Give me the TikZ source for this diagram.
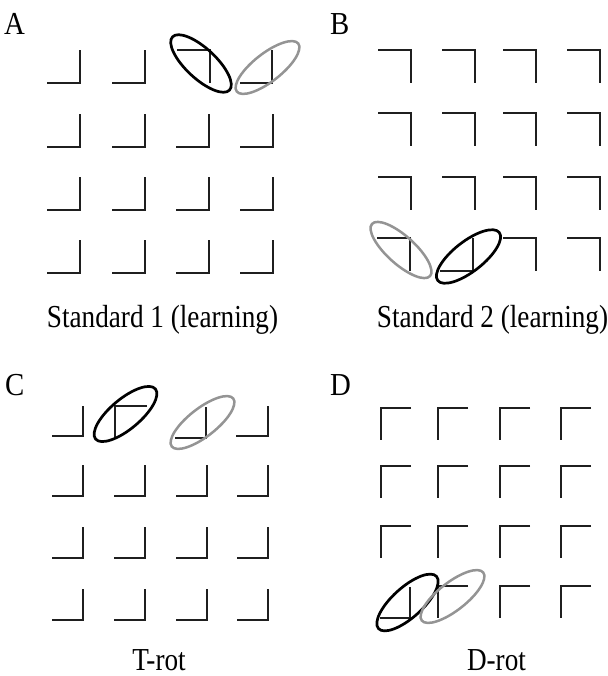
\documentclass[tikz,border=0pt]{standalone}
\usepackage{fontspec}
\setmainfont{Liberation Serif}
\begin{document}
\begin{tikzpicture}[x=1pt,y=-1pt,
  el/.style={draw=black!88, line width=2.3pt, line cap=butt, line join=miter},
  blackring/.style={draw=black, line width=2.7pt},
  grayring/.style={draw=black!42, line width=2.5pt},
  lab/.style={inner sep=0pt, font=\fontsize{32}{36}\selectfont}]
\useasboundingbox (0,0) rectangle (607,676);
% ---------- Panel A : corners bottom-right ----------
\foreach \X in {80,145,209,273}
  \foreach \Y in {147,210,273}
    \draw[el] (\X-33,\Y) -- (\X,\Y) -- (\X,\Y-33);
\draw[el] (47,83) -- (80,83) -- (80,50);
\draw[el] (112,83) -- (145,83) -- (145,50);
\draw[el] (177,50) -- (210,50) -- (210,83);
\draw[el] (240,83) -- (272,83) -- (272,50);
\draw[blackring, rotate around={-43:(201,63.5)}] (201,63.5) ellipse [x radius=39pt, y radius=15pt];
\draw[grayring, rotate around={38:(267.5,67.5)}] (267.5,67.5) ellipse [x radius=39pt, y radius=14pt];
% ---------- Panel B : corners top-right ----------
\foreach \X in {411,475,536,600}
  \foreach \Y in {50,113,177}
    \draw[el] (\X-33,\Y) -- (\X,\Y) -- (\X,\Y+33);
\draw[el] (377,238) -- (410,238) -- (410,271);
\draw[el] (440,271) -- (473,271) -- (473,238);
\draw[el] (503,238) -- (536,238) -- (536,271);
\draw[el] (567,238) -- (600,238) -- (600,271);
\draw[grayring, rotate around={-42:(401,250)}] (401,250) ellipse [x radius=39pt, y radius=14pt];
\draw[blackring, rotate around={38:(468.5,256.5)}] (468.5,256.5) ellipse [x radius=39pt, y radius=15pt];
% ---------- Panel C : corners bottom-right ----------
\foreach \X in {83,145,207,268}
  \foreach \Y in {496,558,620}
    \draw[el] (\X-31,\Y) -- (\X,\Y) -- (\X,\Y-31);
\draw[el] (52,436) -- (83,436) -- (83,406);
\draw[el] (147,406) -- (115,406) -- (115,437);
\draw[el] (175,438) -- (206,438) -- (206,407);
\draw[el] (236,436) -- (268,436) -- (268,406);
\draw[blackring, rotate around={40:(125.5,414)}] (125.5,414) ellipse [x radius=39pt, y radius=15pt];
\draw[grayring, rotate around={38:(202.5,422.5)}] (202.5,422.5) ellipse [x radius=39pt, y radius=14pt];
% ---------- Panel D : corners top-left ----------
\foreach \X in {381,438,500,561}
  \foreach \Y in {408,466,526}
    \draw[el] (\X+30,\Y) -- (\X,\Y) -- (\X,\Y+32);
\draw[el] (380,618) -- (410,618) -- (410,587);
\draw[el] (468,586) -- (438,586) -- (438,618);
\draw[el] (530,586) -- (500,586) -- (500,618);
\draw[el] (591,586) -- (561,586) -- (561,618);
\draw[blackring, rotate around={42:(407.5,602.5)}] (407.5,602.5) ellipse [x radius=39pt, y radius=15pt];
\draw[grayring, rotate around={38:(452.5,596.5)}] (452.5,596.5) ellipse [x radius=39pt, y radius=14pt];
% ---------- Labels ----------
\node[lab, anchor=base west] (la) at (4,35) {\scalebox{0.9}[1]{A}};
\node[lab, anchor=base west] (lb) at (330,35) {\scalebox{0.9}[1]{B}};
\node[lab, anchor=base west] (lc) at (5,395) {\scalebox{0.9}[1]{C}};
\node[lab, anchor=base west] (ld) at (330,395) {\scalebox{0.9}[1]{D}};
\node[lab, anchor=base] (t1) at (162.5,327) {\scalebox{0.85}[1]{Standard 1 (learning)}};
\node[lab, anchor=base] (t2) at (492.5,327) {\scalebox{0.85}[1]{Standard 2 (learning)}};
\node[lab, anchor=base] (t3) at (159,670) {\scalebox{0.85}[1]{T-rot}};
\node[lab, anchor=base] (t4) at (496.5,670) {\scalebox{0.85}[1]{D-rot}};
\end{tikzpicture}
\end{document}
